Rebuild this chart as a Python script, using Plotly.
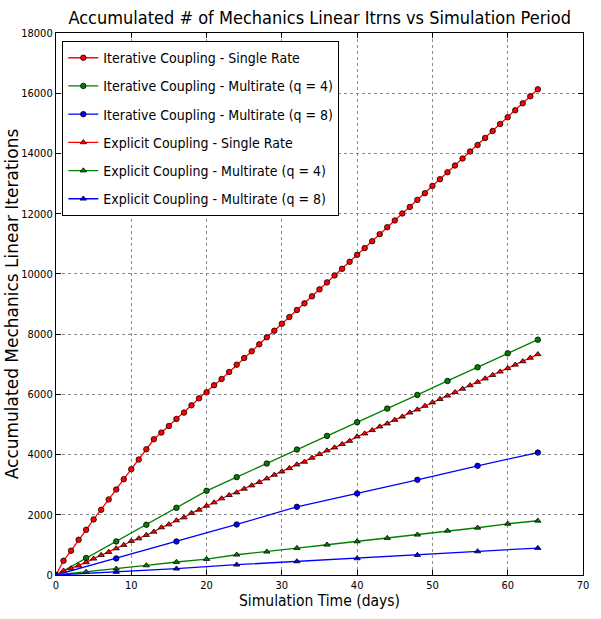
import plotly.graph_objects as go

# Simulation days for each coupling scheme
days_single = list(range(0, 65))
days_q4 = list(range(0, 65, 4))
days_q8 = list(range(0, 65, 8))

# Accumulated mechanics linear iterations
iter_single = [
    0, 474, 806, 1170, 1502, 1846, 2165, 2509, 2840, 3182,
    3513, 3835, 4176, 4508, 4730, 4949, 5181, 5393, 5635, 5867,
    6070, 6302, 6510, 6743, 6985, 7207, 7430, 7662, 7894, 8113,
    8345, 8568, 8800, 9022, 9254, 9486, 9718, 9950, 10169, 10401,
    10634, 10856, 11085, 11320, 11552, 11774, 12007, 12225, 12458, 12680,
    12922, 13144, 13376, 13599, 13831, 14063, 14282, 14514, 14746, 14978,
    15201, 15433, 15665, 15897, 16129,
]
iter_q4 = [0, 564, 1115, 1668, 2232, 2796, 3250, 3702, 4166, 4620,
           5075, 5526, 5980, 6444, 6899, 7363, 7814]
iter_q8 = [0, 551, 1115, 1678, 2265, 2707, 3161, 3625, 4066]

expl_single = [
    0, 143, 219, 308, 420, 541, 663, 763, 882, 995,
    1128, 1214, 1327, 1436, 1579, 1678, 1811, 1910, 2056, 2166,
    2298, 2408, 2541, 2653, 2740, 2862, 2972, 3085, 3204, 3327,
    3436, 3549, 3668, 3758, 3891, 4013, 4133, 4232, 4345, 4454,
    4597, 4697, 4809, 4929, 5028, 5151, 5260, 5393, 5493, 5615,
    5728, 5842, 5955, 6070, 6183, 6298, 6410, 6524, 6640, 6753,
    6866, 6982, 7095, 7212, 7330,
]
expl_q4 = [0, 100, 209, 318, 431, 530, 673, 773, 895, 1005,
           1115, 1227, 1337, 1469, 1569, 1701, 1801]
expl_q8 = [0, 100, 209, 342, 451, 551, 663, 783, 895]

x_ticks = list(range(0, 71, 10))
y_ticks = list(range(0, 18001, 2000))

NARROW = "Liberation Sans Narrow, DejaVu Sans Condensed, sans-serif"

series = [
    ("Iterative Coupling - Single Rate", days_single, iter_single, "#ff0000", "circle"),
    ("Iterative Coupling - Multirate (q = 4)", days_q4, iter_q4, "#008000", "circle"),
    ("Iterative Coupling - Multirate (q = 8)", days_q8, iter_q8, "#0000ff", "circle"),
    ("Explicit Coupling - Single Rate", days_single, expl_single, "#ff0000", "triangle-up"),
    ("Explicit Coupling - Multirate (q = 4)", days_q4, expl_q4, "#008000", "triangle-up"),
    ("Explicit Coupling - Multirate (q = 8)", days_q8, expl_q8, "#0000ff", "triangle-up"),
]

fig = go.Figure()
for i, (name, xs, ys, color, symbol) in enumerate(series):
    fig.add_trace(go.Scatter(
        x=xs, y=ys, name=name, mode="lines+markers", legendgroup=f"g{i}",
        line=dict(color=color, width=1.3),
        marker=dict(symbol=symbol, size=5.5,
                    color=color, line=dict(color="black", width=0.8)),
    ))

axis_common = dict(
    showline=True, linecolor="black", linewidth=1.2, mirror="allticks",
    ticks="inside", ticklen=5, tickcolor="black", automargin=False,
    showgrid=True, gridcolor="#8a8a8a", griddash="dot", gridwidth=1,
    zeroline=False, tickfont=dict(family=NARROW, size=11, color="black"),
)

fig.update_xaxes(range=[0, 70], tickvals=x_ticks, **axis_common,
                 title=dict(text="Simulation Time (days)",
                            font=dict(family=NARROW, size=15.5, color="black"),
                            standoff=3))
fig.update_yaxes(range=[0, 18000], tickvals=y_ticks, tickformat="d", **axis_common)

# Vertical axis caption placed just left of the tick labels
fig.add_annotation(
    text="Accumulated Mechanics Linear Iterations",
    xref="paper", yref="paper", x=-0.083, y=0.5,
    xanchor="center", yanchor="middle", textangle=-90, showarrow=False,
    font=dict(family="DejaVu Sans", size=17, color="black"),
)

fig.update_layout(
    width=601, height=619,
    margin=dict(l=56, r=18, t=33, b=44),
    paper_bgcolor="white", plot_bgcolor="white",
    title=dict(text="Accumulated # of Mechanics Linear Itrns vs Simulation Period",
               x=0.532, xanchor="center", y=0.972, yanchor="middle",
               font=dict(family=NARROW, size=18, color="black")),
    legend=dict(x=0.012, y=0.985, xanchor="left", yanchor="top",
                bgcolor="white", bordercolor="black", borderwidth=1,
                font=dict(family=NARROW, size=14, color="black"),
                tracegroupgap=7, itemwidth=30),
    showlegend=True,
)

fig.write_html("out.html")
